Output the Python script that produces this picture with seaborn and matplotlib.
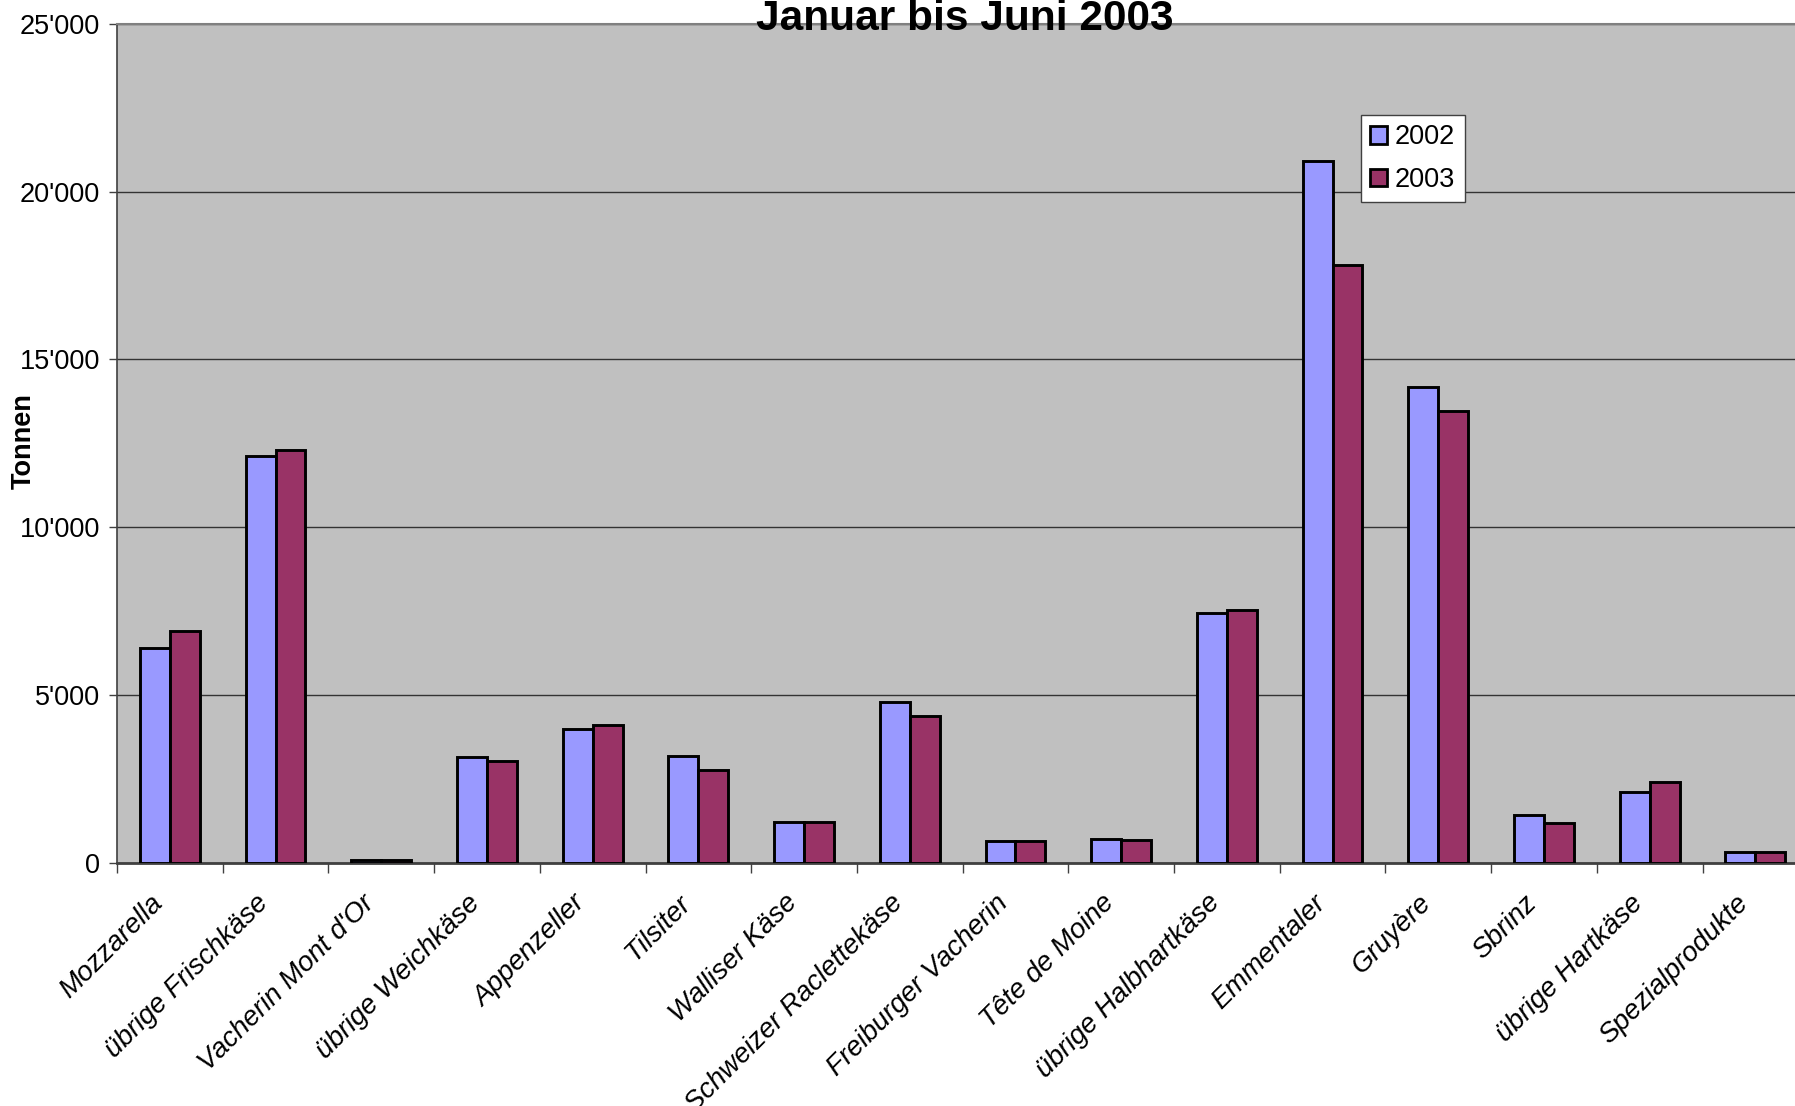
import matplotlib
matplotlib.use("Agg")
import matplotlib.pyplot as plt
import matplotlib.ticker as mticker
import matplotlib.transforms as mtrans
from matplotlib.patches import Patch
import seaborn as sns
import pandas as pd

categories = ["Mozzarella", "übrige Frischkäse", "Vacherin Mont d'Or", "übrige Weichkäse",
              "Appenzeller", "Tilsiter", "Walliser Käse", "Schweizer Raclettekäse",
              "Freiburger Vacherin", "Tête de Moine", "übrige Halbhartkäse", "Emmentaler",
              "Gruyère", "Sbrinz", "übrige Hartkäse", "Spezialprodukte"]
values_2002 = [6400, 12130, 100, 3170, 3990, 3200, 1230, 4800, 650, 710, 7460, 20920,
               14170, 1430, 2110, 340]
values_2003 = [6910, 12300, 80, 3030, 4120, 2760, 1230, 4390, 650, 680, 7530, 17820,
               13450, 1190, 2420, 340]
years = ["2002", "2003"]
colors = ["#9999FF", "#993366"]
yticks = [0, 5000, 10000, 15000, 20000, 25000]

df = pd.DataFrame({
    "Kategorie": categories * 2,
    "Tonnen": values_2002 + values_2003,
    "Jahr": [years[0]] * len(categories) + [years[1]] * len(categories),
})

sns.set_theme(style="white")
plt.rcParams["font.family"] = ["Liberation Sans", "DejaVu Sans"]
plt.rcParams["text.color"] = "black"
plt.rcParams["xtick.color"] = "black"
plt.rcParams["ytick.color"] = "black"
plt.rcParams["axes.labelcolor"] = "black"

W, H = 1795, 1106
fig = plt.figure(figsize=(W / 100, H / 100), dpi=100)
left, top, bottom = 117, 23.7, 863
span = 105.7 * 16
ax = fig.add_axes([left / W, 1 - bottom / H, span / W, (bottom - top) / H])
ax.set_facecolor("#C0C0C0")

sns.barplot(data=df, x="Kategorie", y="Tonnen", hue="Jahr", palette=colors,
            order=categories, hue_order=years, width=0.566, edgecolor="black",
            linewidth=2.1, saturation=1, ax=ax, errorbar=None, zorder=3)

ax.set_xlim(-0.5, len(categories) - 0.5)
ax.set_ylim(0, 25000)
ax.set_yticks(yticks)
ax.yaxis.set_major_formatter(mticker.FuncFormatter(
    lambda v, p: f"{int(v):,}".replace(",", "'")))
ax.grid(axis="y", color="#333333", linewidth=1.0, zorder=0)
ax.grid(axis="x", visible=False)
ax.set_axisbelow(True)

ax.spines["right"].set_visible(False)
ax.spines["top"].set_color("#808080")
ax.spines["top"].set_linewidth(1.5)
ax.spines["left"].set_color("#404040")
ax.spines["left"].set_linewidth(1.2)
ax.spines["bottom"].set_color("#404040")
ax.spines["bottom"].set_linewidth(2.0)

ax.tick_params(axis="y", which="major", direction="out", length=6, width=1,
               color="#404040", labelsize=19.5, pad=6, left=True, labelcolor="black")
ax.set_xticks(range(len(categories)))
ax.set_xticks([i - 0.5 for i in range(len(categories) + 1)], minor=True)
ax.tick_params(axis="x", which="major", length=0, pad=26, labelcolor="black")
ax.tick_params(axis="x", which="minor", direction="out", length=7, width=1,
               color="#404040", bottom=True)
ax.set_xticklabels(categories, rotation=45, ha="right", va="center",
                   rotation_mode="anchor", fontsize=20, style="italic")
offset = mtrans.ScaledTranslation(-11 / 100, 0, fig.dpi_scale_trans)
for lbl in ax.get_xticklabels():
    lbl.set_transform(lbl.get_transform() + offset)

ax.set_xlabel("")
ax.set_ylabel("")
fig.text(24 / W, 1 - 441 / H, "Tonnen", rotation=90, ha="center", va="center",
         fontsize=19.5, fontweight="bold")
fig.text(965 / W, 1 - 30 / H, "Januar bis Juni 2003", ha="center", va="baseline",
         fontsize=30.5, fontweight="bold")

handles = [Patch(facecolor=c, edgecolor="black", linewidth=2.0) for c in colors]
leg = ax.legend(handles, years, loc="upper left",
                bbox_to_anchor=((1361 - left) / span, (bottom - 115) / (bottom - top)),
                fontsize=19.5, frameon=True, fancybox=False, framealpha=1,
                handlelength=0.6, handleheight=0.6, handletextpad=0.3,
                borderpad=0.35, labelspacing=0.6, borderaxespad=0)
leg.get_frame().set_edgecolor("#404040")
leg.get_frame().set_linewidth(1.0)

fig.savefig("out.png", dpi=100)
